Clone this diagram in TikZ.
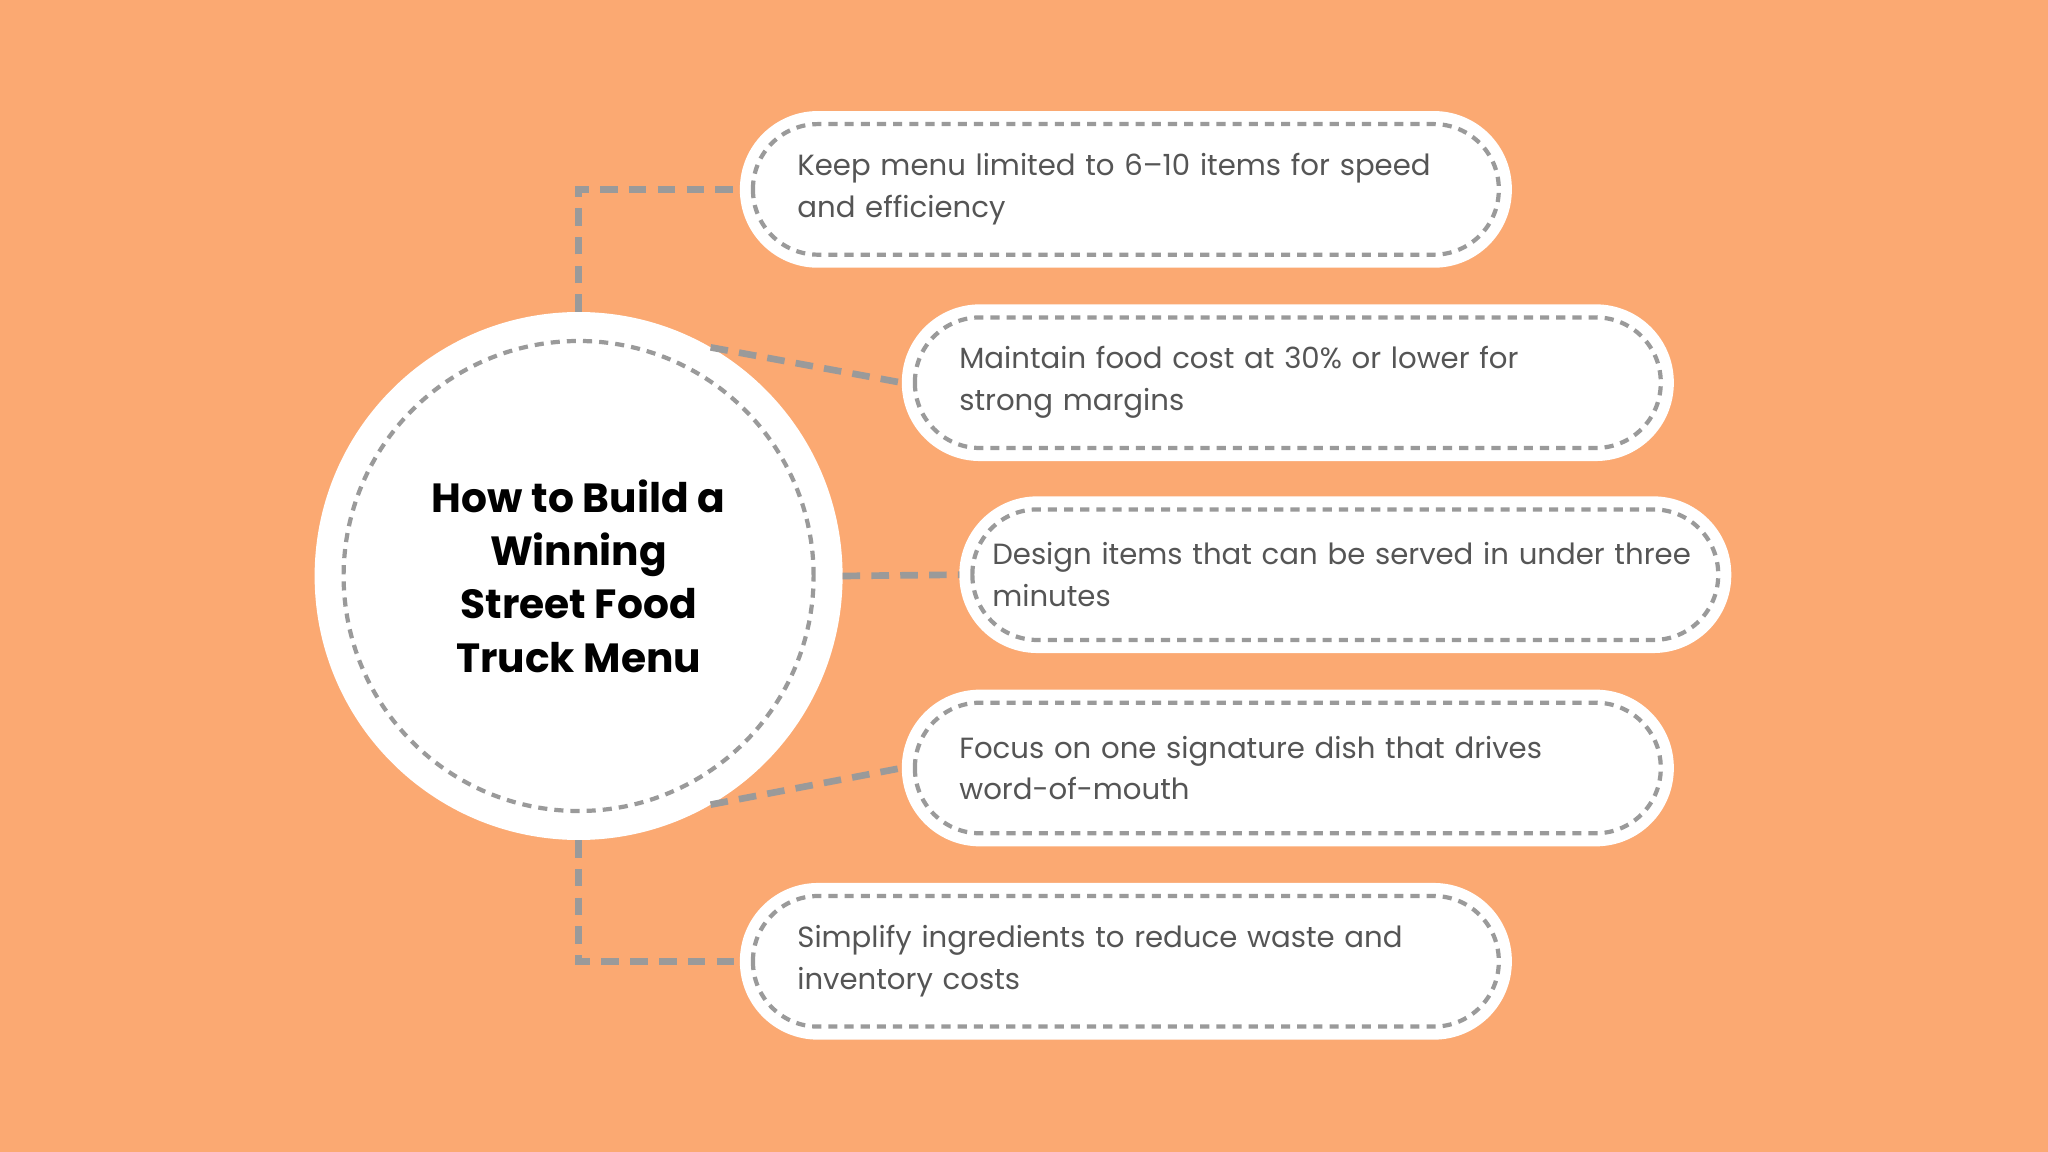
\documentclass[tikz,border=0pt]{standalone}
\usepackage{fontspec}
\setmainfont{Poppins}
\usepackage{tikz}
\definecolor{bgorange}{HTML}{FBA972}
\definecolor{dashgray}{HTML}{9A9A9A}
\definecolor{tipgray}{HTML}{555555}

\begin{document}
\begin{tikzpicture}
  [x=0.01306cm,y=-0.01306cm,
   tipbox/.style={rectangle,fill=white,rounded corners=0.78cm,align=left,
                  outer sep=0,minimum width=7.72cm,minimum height=1.567cm,
                  inner xsep=0.575cm,text width=6.57cm,text=tipgray,
                  font=\fontsize{8.3}{11.9}\selectfont},
   widebox/.style={tipbox,inner xsep=0.33cm,text width=7.06cm},
   hub/.style={circle,fill=white,minimum size=5.28cm,inner sep=0,outer sep=0,
               align=center,font=\fontsize{11.6}{15.2}\selectfont\bfseries},
   link/.style={draw=dashgray,line width=1.9pt,dash pattern=on 5pt off 3.2pt},
   inner/.style={draw=dashgray,line width=1.2pt,dash pattern=on 2.6pt off 2pt}]
  \fill[bgorange] (0,0) rectangle (1568,882);
  \node[hub] (hub) at (443,441) {How to Build a\\Winning\\Street Food\\Truck Menu};
  \draw[inner] (hub.center) circle (2.35cm);
  \node[tipbox] (tip1) at (862,145) {Keep menu limited to 6–10 items for speed and efficiency};
  \node[tipbox] (tip2) at (986,293) {Maintain food cost at 30\% or lower for strong margins};
  \node[widebox] (tip3) at (1030,440) {Design items that can be served in under three minutes};
  \node[tipbox] (tip4) at (986,588) {Focus on one signature dish that drives word-of-mouth};
  \node[tipbox] (tip5) at (862,736) {Simplify ingredients to reduce waste and inventory costs};
  \foreach \t in {tip1,tip2,tip3,tip4,tip5}
    \draw[inner,rounded corners=0.65cm] ([shift={(10,-10)}]\t.south west)
      rectangle ([shift={(-10,10)}]\t.north east);
  \draw[link] (hub.north) |- (tip1.west);
  \draw[link] (hub.60) -- (tip2.west);
  \draw[link] (hub.east) -- (tip3.west);
  \draw[link] (hub.-60) -- (tip4.west);
  \draw[link] (hub.south) |- (tip5.west);
\end{tikzpicture}
\end{document}
